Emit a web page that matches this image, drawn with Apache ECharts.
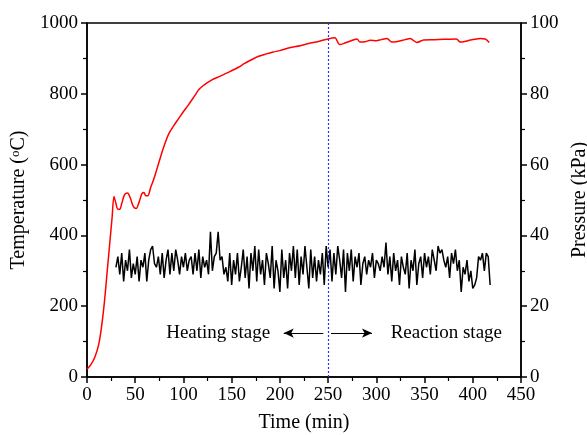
<!DOCTYPE html>
<html>
<head>
<meta charset="utf-8">
<script src="https://cdn.jsdelivr.net/npm/echarts@6/dist/echarts.min.js"></script>
<style>
html,body{margin:0;padding:0;background:#fff;}
#chart{width:587px;height:435px;}
</style>
</head>
<body>
<div id="chart"></div>
<script>
// Temperature curve (time in min, temperature in °C)
var tempTime = [0,4,8,12,15,18,21,24,26,28,30,32,34,36,39,42,45,48,51,54,57,59,61,63,66,69,72,75,78,81,85,90,95,100,105,109,113,116,120,124,130,135,142,149,157,163,169,174,178,185,193,200,210,221,230,240,250,257,262,268,276,280,283,288,294,300,305,311,316,322,330,335,342,349,360,370,383,387,395,402,408,413,417];
var tempValue = [22,35,55,90,140,210,300,390,450,510,490,474,474,490,515,520,505,482,476,494,518,521,512,512,535,557,583,610,637,661,688,710,730,750,768,784,800,812,822,830,840,846,855,864,875,885,894,901,906,912,918,922,930,936,942,948,955,958,939,944,952,955,946,947,951,950,953,956,946,948,953,956,945,952,953,954,955,946,950,954,956,955,945];

// Pressure (kPa), sampled every 2 min from 30 min
var pressStart = 30, pressStep = 2;
var pressValue = [
 31,34,29,35,27,33,30,36,28,32,
 29,34,27,33,31,35,27,33,36,37,
 32,31,34,29,35,28,33,36,29,35,
 30,36,33,29,34,31,35,30,33,34,
 29,35,30,36,28,34,31,33,29,41,
 30,34,35,41,33,34,29,31,27,35,
 26,33,29,35,27,31,36,28,34,25,
 35,30,37,27,36,29,33,26,35,32,
 28,37,25,33,30,24,36,28,33,25,
 35,30,37,28,36,26,34,29,37,31,
 25,36,28,34,27,33,29,35,26,37,
 31,36,27,35,29,37,33,28,36,24,
 35,30,36,27,34,31,35,26,32,34,
 29,33,31,35,28,33,32,30,34,31,
 38,29,34,27,35,30,33,26,34,31,
 29,35,25,33,30,36,26,32,34,28,
 35,31,34,29,36,33,30,37,35,36,
 33,31,34,28,35,32,36,30,33,24,
 31,29,33,27,30,25,26,28,34,33,
 35,30,35,34,26
];

var xTicks = {min:0, max:450, interval:50};
var tempTicks = {min:0, max:1000, interval:200};
var pressTicks = {min:0, max:100, interval:20};

var stageLine = 250;
var labels = [
  {text:'Heating stage', t:136, v:125},
  {text:'Reaction stage', t:372.6, v:125}
];
var arrows = [
  [[245,124],[204,124]],
  [[253,124],[295.5,124]]
];

var FONT = '"Liberation Serif","Times New Roman",serif';

var tempData = tempTime.map(function(t,i){return [t,tempValue[i]];});
var pressData = pressValue.map(function(v,i){return [pressStart + i*pressStep, v];});

var axisCommon = {
  axisLine:{show:true,lineStyle:{color:'#000',width:1.5}},
  axisTick:{show:true,inside:false,length:6,lineStyle:{color:'#000',width:1.5}},
  minorTick:{show:true,splitNumber:2,length:4,lineStyle:{color:'#000',width:1.2}},
  splitLine:{show:false},
  axisLabel:{color:'#000',fontFamily:FONT,fontSize:19,margin:9},
  nameTextStyle:{color:'#000',fontFamily:FONT,fontSize:20}
};
function ax(extra){
  var o = Object.assign(JSON.parse(JSON.stringify(axisCommon)), extra);
  o.axisLabel.formatter = function(v){return String(v);};
  return o;
}

var chart = echarts.init(document.getElementById('chart'), null, {renderer:'canvas'});
chart.setOption({
  animation:false,
  backgroundColor:'#fff',
  grid:{left:87,right:66,top:23,bottom:58,containLabel:false,outerBoundsMode:'none',
    show:true,borderColor:'#000',borderWidth:1.5,backgroundColor:'transparent'},
  xAxis:ax({type:'value',min:xTicks.min,max:xTicks.max,interval:xTicks.interval,
    name:'Time (min)',nameLocation:'middle',nameGap:36}),
  yAxis:[
    ax({type:'value',position:'left',min:tempTicks.min,max:tempTicks.max,interval:tempTicks.interval,
      name:'Temperature ({sup|o}C)',nameLocation:'middle',nameGap:53,nameRotate:90,
      nameTextStyle:{color:'#000',fontFamily:FONT,fontSize:20,
        rich:{sup:{fontFamily:FONT,fontSize:13,color:'#000',verticalAlign:'top',padding:[0,0,8,0]}}}}),
    ax({type:'value',position:'right',min:pressTicks.min,max:pressTicks.max,interval:pressTicks.interval,
      name:'Pressure (kPa)',nameLocation:'middle',nameGap:44,nameRotate:90})
  ],
  series:[
    {type:'line',name:'Temperature',yAxisIndex:0,data:tempData,showSymbol:false,smooth:0.3,
      lineStyle:{color:'#ff0000',width:1.5},itemStyle:{color:'#ff0000'},z:3,
      markLine:{silent:true,symbol:['none','arrow'],symbolSize:[7,10],
        lineStyle:{color:'#000',width:1,type:'solid'},label:{show:false},
        data:arrows.map(function(a){return [{coord:a[0]},{coord:a[1]}];})},
      markPoint:{silent:true,symbol:'rect',symbolSize:[1,1],itemStyle:{color:'rgba(0,0,0,0)'},
        label:{show:true,position:'inside',color:'#000',fontFamily:FONT,fontSize:19},
        data:labels.map(function(l){return {coord:[l.t,l.v],value:l.text,label:{formatter:l.text}};})}
    },
    {type:'line',name:'Pressure',yAxisIndex:1,data:pressData,showSymbol:false,
      lineStyle:{color:'#000',width:1.5},itemStyle:{color:'#000'},z:2,
      markLine:{silent:true,symbol:['none','none'],label:{show:false},
        lineStyle:{color:'#2b2bff',width:1.2,type:[2,2]},
        data:[{xAxis:stageLine}]}
    }
  ]
});
</script>
</body>
</html>
